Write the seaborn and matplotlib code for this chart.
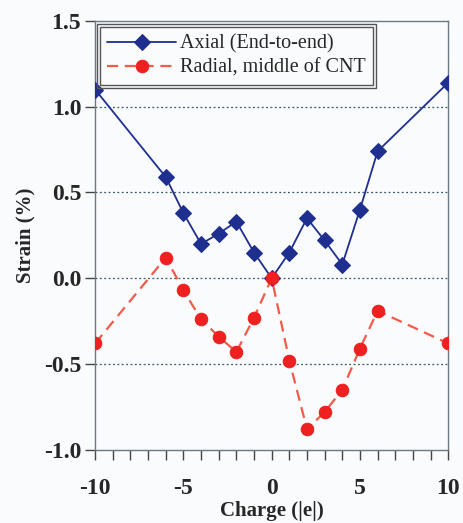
import seaborn as sns
import matplotlib.pyplot as plt
import pandas as pd
from matplotlib.ticker import MultipleLocator
from matplotlib.patches import Rectangle

sns.set_style('white')
plt.rcParams['font.family'] = ['Liberation Serif', 'DejaVu Serif']
plt.rcParams['axes.unicode_minus'] = False

charge = [-10, -6, -5, -4, -3, -2, -1, 0, 1, 2, 3, 4, 5, 6, 10]
axial = [1.10, 0.59, 0.38, 0.20, 0.26, 0.33, 0.15, 0.0, 0.15, 0.35, 0.22, 0.08, 0.40, 0.74, 1.14]
radial = [-0.38, 0.12, -0.07, -0.24, -0.34, -0.43, -0.23, 0.0, -0.48, -0.88, -0.78, -0.65, -0.41, -0.19, -0.38]

df = pd.DataFrame({'charge': charge, 'axial': axial, 'radial': radial})

fig = plt.figure(figsize=(4.64, 5.23), dpi=100)
fig.patch.set_facecolor('#fafbfd')
ax = fig.add_axes([0.205, 0.14, 0.761, 0.82])
ax.set_facecolor('#fafbfd')

for yv in [-0.5, 0.0, 0.5, 1.0]:
    ax.axhline(yv, color='#2f5a66', lw=0.9, ls=(0, (1.5, 2)), zorder=1)

sns.lineplot(data=df, x='charge', y='axial', ax=ax, color='#1f2f8f', lw=1.3,
             marker='D', markersize=8.5, markeredgecolor='#1f2f8f',
             label='Axial (End-to-end)', zorder=3)
sns.lineplot(data=df, x='charge', y='radial', ax=ax, color='#f25a4a', lw=1.6,
             marker='o', markersize=9, markerfacecolor='#ee2020', markeredgecolor='#ee2020',
             dashes=False, label='Radial, middle of CNT', zorder=3)
ax.lines[-1].set_linestyle((0, (5, 3)))

ax.set_xlim(-10, 10)
ax.xaxis.set_major_locator(MultipleLocator(5))
ax.xaxis.set_minor_locator(MultipleLocator(1))
ax.yaxis.set_major_locator(MultipleLocator(0.5))
ax.set_ylim(-1.0, 1.5)
ax.set_yticks([-1.0, -0.5, 0.0, 0.5, 1.0, 1.5])
ax.set_yticklabels(['%.1f' % v for v in [-1.0, -0.5, 0.0, 0.5, 1.0, 1.5]])
ax.tick_params(axis='both', which='both', direction='out', color='#444444',
               width=1.0, labelsize=17, bottom=True, left=True)
ax.tick_params(axis='x', which='major', length=7, pad=13)
ax.tick_params(axis='x', which='minor', length=7)
ax.tick_params(axis='y', which='major', length=7, pad=3)
for lbl in ax.get_xticklabels() + ax.get_yticklabels():
    lbl.set_fontweight('bold')

for sp in ax.spines.values():
    sp.set_color('#6a7a80')
    sp.set_linewidth(1.0)

ax.set_xlabel('Charge (|e|)', fontsize=15, fontweight='bold', labelpad=2)
ax.set_ylabel('Strain (%)', fontsize=15, fontweight='bold', labelpad=6)

leg = ax.legend(loc='upper left', bbox_to_anchor=(0.015, 0.985), fontsize=14.5,
                frameon=True, fancybox=False, borderpad=0.35, handlelength=3.4,
                handletextpad=0.2, labelspacing=0.25, borderaxespad=0.0)
leg.get_frame().set_edgecolor('#555555')
leg.get_frame().set_linewidth(1.0)
leg.get_frame().set_facecolor('#fafbfd')
leg.get_frame().set_alpha(1)

# double frame around the legend
fig.canvas.draw()
bb = leg.get_window_extent()
inv = fig.transFigure.inverted()
(x0, y0), (x1, y1) = inv.transform([(bb.x0 - 3, bb.y0 - 3), (bb.x1 + 3, bb.y1 + 3)])
fig.add_artist(Rectangle((x0, y0), x1 - x0, y1 - y0, transform=fig.transFigure,
                         fill=False, edgecolor='#555555', lw=1.0, zorder=10))

fig.savefig('out.png', dpi=100, facecolor=fig.get_facecolor())
